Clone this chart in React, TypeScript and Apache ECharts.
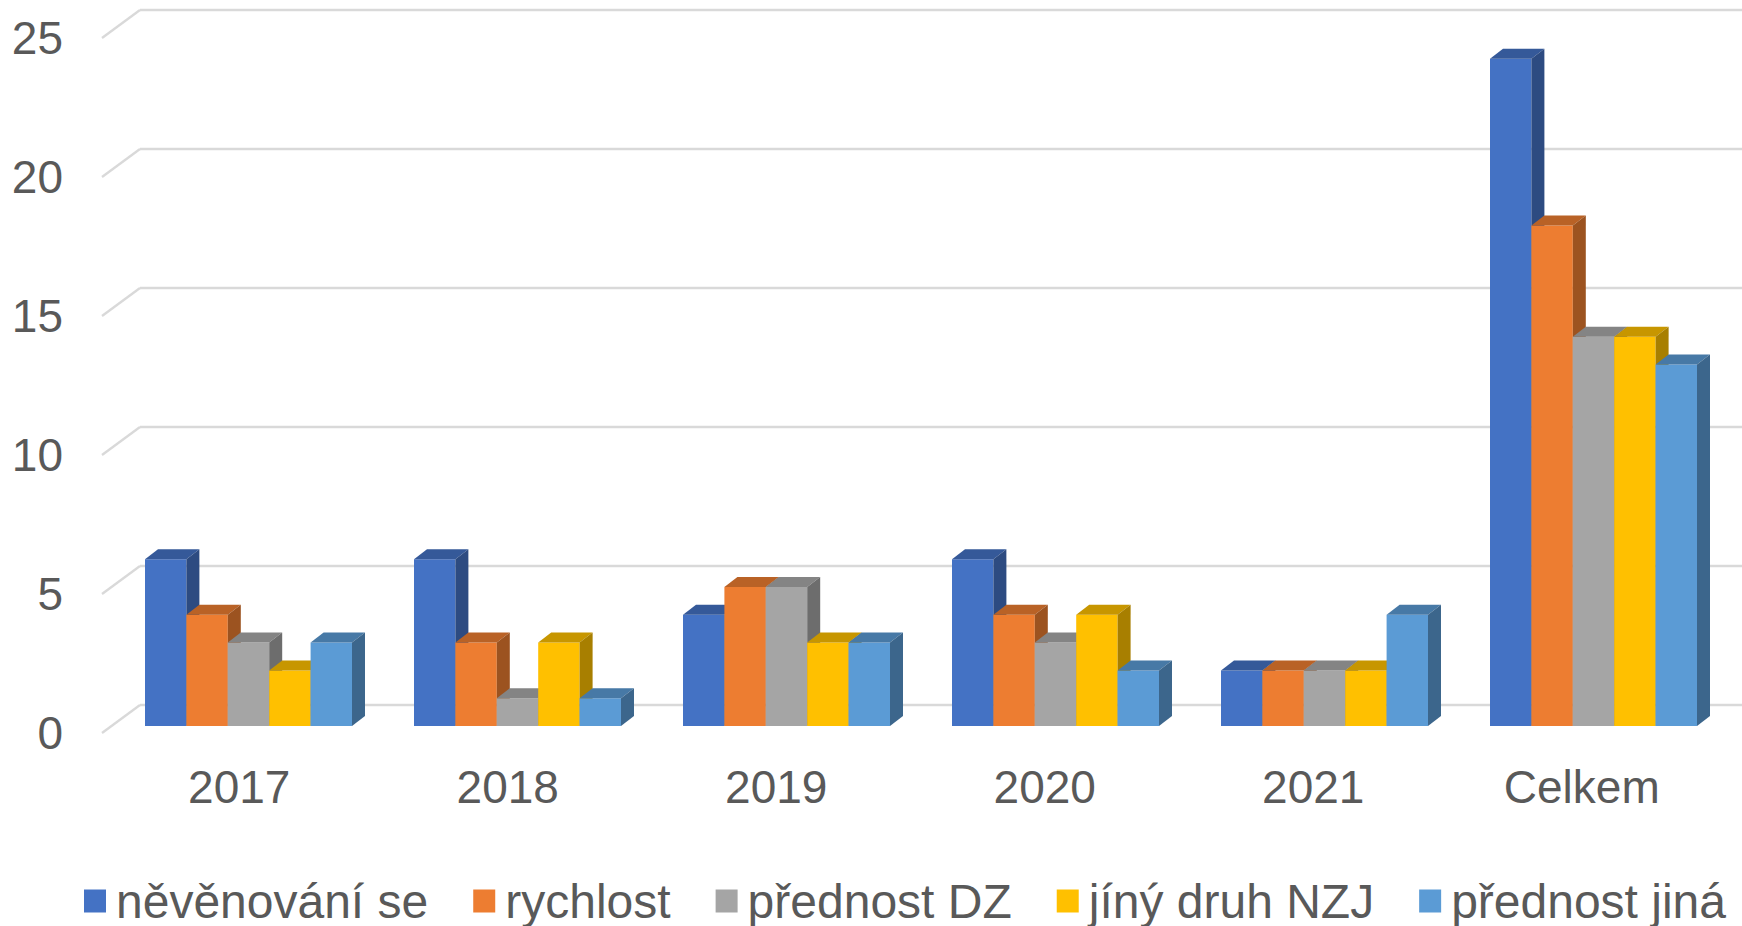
import React, { useEffect, useRef } from "react";
import * as echarts from "echarts";

const categories = ["2017", "2018", "2019", "2020", "2021", "Celkem"];
const seriesNames = ["něvěnování se", "rychlost", "přednost DZ", "jíný druh NZJ", "přednost jiná"];
const nevenovaniSe = [6, 6, 4, 6, 2, 24];
const rychlost = [4, 3, 5, 4, 2, 18];
const prednostDZ = [3, 1, 5, 3, 2, 14];
const jinyDruhNZJ = [2, 3, 3, 4, 2, 14];
const prednostJina = [3, 1, 3, 2, 4, 13];
const seriesValues = [nevenovaniSe, rychlost, prednostDZ, jinyDruhNZJ, prednostJina];
const yTicks = [0, 5, 10, 15, 20, 25];

const frontColors = ["#4472C4", "#ED7D31", "#A5A5A5", "#FFC000", "#5B9BD5"];
const topColors = ["#355999", "#B96226", "#848484", "#C79600", "#4779A6"];
const sideColors = ["#2D4B81", "#9C5320", "#6D6D6D", "#A87F00", "#3C668C"];

const FONT = "'Liberation Sans', Arial, sans-serif";
const TEXT_COLOR = "#595959";
const DEPTH_DX = 13;
const DEPTH_DY = 10;
const FLOOR_DX = 38;
const FLOOR_DY = 28;
const GROUP_RATIO = 207 / 269;

export default function App() {
  const ref = useRef<HTMLDivElement>(null);

  useEffect(() => {
    if (!ref.current) return;
    const chart = echarts.init(ref.current, undefined, { renderer: "svg" });

    const barSeries = seriesValues.map((vals, s) => ({
      type: "custom",
      name: seriesNames[s],
      xAxisIndex: 2,
      yAxisIndex: 2,
      clip: false,
      z: 3,
      itemStyle: { color: frontColors[s] },
      data: vals.map((v, i) => [i, v]),
      renderItem: (params: any, api: any) => {
        const ci = api.value(0);
        const v = api.value(1);
        const top = api.coord([ci, v]);
        const base = api.coord([ci, 0]);
        const band = api.size([1, 0])[0];
        const groupW = band * GROUP_RATIO;
        const bw = groupW / seriesValues.length;
        const x = top[0] - groupW / 2 + s * bw;
        const y = top[1];
        const b = base[1];
        return {
          type: "group",
          children: [
            {
              type: "rect",
              shape: { x, y, width: bw, height: b - y },
              style: { fill: frontColors[s] },
            },
            {
              type: "polygon",
              shape: {
                points: [
                  [x, y],
                  [x + DEPTH_DX, y - DEPTH_DY],
                  [x + bw + DEPTH_DX, y - DEPTH_DY],
                  [x + bw, y],
                ],
              },
              style: { fill: topColors[s] },
            },
            {
              type: "polygon",
              shape: {
                points: [
                  [x + bw, y],
                  [x + bw + DEPTH_DX, y - DEPTH_DY],
                  [x + bw + DEPTH_DX, b - DEPTH_DY],
                  [x + bw, b],
                ],
              },
              style: { fill: sideColors[s] },
            },
          ],
        };
      },
    }));

    const option: any = {
      animation: false,
      backgroundColor: "#ffffff",
      textStyle: { fontFamily: FONT },
      grid: [
        { left: 140, right: 0, top: 10, bottom: 221 },
        { left: 105, width: 1611, top: 38, bottom: 193 },
        { left: 114, width: 1614, top: 31, bottom: 200 },
      ],
      xAxis: [
        { gridIndex: 0, type: "value", min: 0, max: 1, show: false },
        {
          gridIndex: 1,
          type: "category",
          data: categories,
          axisLine: { show: false },
          axisTick: { show: false },
          splitLine: { show: false },
          axisLabel: { fontSize: 46, color: TEXT_COLOR, fontFamily: FONT, margin: 31 },
        },
        { gridIndex: 2, type: "category", data: categories, show: false },
      ],
      yAxis: [
        {
          gridIndex: 0,
          type: "value",
          min: 0,
          max: 25,
          interval: 5,
          axisLine: { show: false },
          axisTick: { show: false },
          axisLabel: { show: false },
          splitLine: { show: true, lineStyle: { color: "#d9d9d9", width: 2.3 } },
        },
        {
          gridIndex: 1,
          type: "value",
          min: 0,
          max: 25,
          interval: 5,
          axisLine: { show: false },
          axisTick: { show: false },
          splitLine: { show: false },
          axisLabel: { fontSize: 46, color: TEXT_COLOR, fontFamily: FONT, margin: 42 },
        },
        { gridIndex: 2, type: "value", min: 0, max: 25, interval: 5, show: false },
      ],
      legend: {
        left: 84,
        top: 877,
        padding: 0,
        icon: "rect",
        itemWidth: 22,
        itemHeight: 23,
        itemGap: 45,
        selectedMode: false,
        data: seriesNames,
        textStyle: {
          fontSize: 48,
          lineHeight: 46,
          color: TEXT_COLOR,
          fontFamily: FONT,
          padding: [0, 0, 0, 5],
        },
      },
      series: [
        {
          type: "custom",
          name: "slant",
          xAxisIndex: 0,
          yAxisIndex: 0,
          clip: false,
          silent: true,
          z: 1,
          data: yTicks.map((t) => [0, t]),
          renderItem: (params: any, api: any) => {
            const p = api.coord([0, api.value(1)]);
            const x0 = params.coordSys.x;
            return {
              type: "line",
              shape: { x1: x0 - FLOOR_DX, y1: p[1] + FLOOR_DY, x2: x0, y2: p[1] },
              style: { stroke: "#d9d9d9", lineWidth: 2.3 },
            };
          },
        },
        ...barSeries,
      ],
    };

    chart.setOption(option);
    return () => chart.dispose();
  }, []);

  return (
    <div
      ref={ref}
      style={{ position: "fixed", left: 0, top: 0, width: 1742, height: 926, background: "#fff" }}
    />
  );
}
